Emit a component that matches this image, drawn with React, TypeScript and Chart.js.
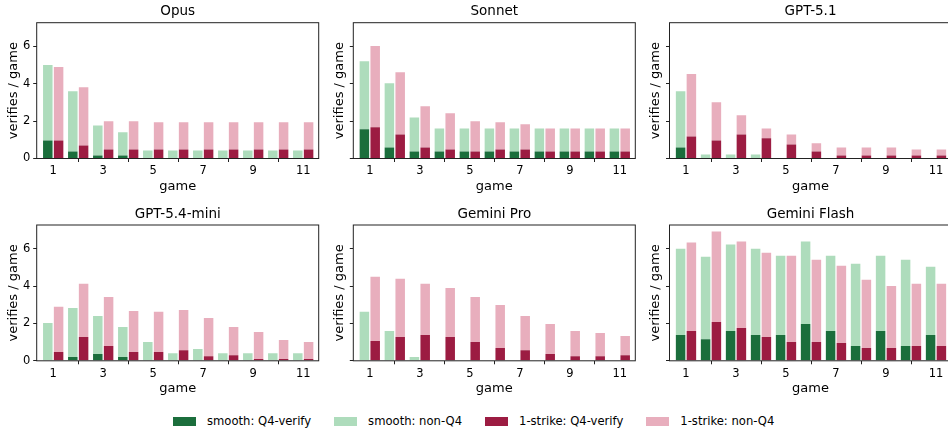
import { useEffect, useRef } from 'react';
import { Chart, registerables } from 'chart.js';

Chart.register(...registerables);

const games = [1, 2, 3, 4, 5, 6, 7, 8, 9, 10, 11];
const xTickValues = [1, 3, 5, 7, 9, 11];
const yTickValues = [0, 2, 4, 6];
const yMax = 7.27;

const seriesLabels = ['smooth: Q4-verify', 'smooth: non-Q4', '1-strike: Q4-verify', '1-strike: non-Q4'];
const seriesColors = ['#1b6e3c', '#aedcbc', '#9c1c42', '#e8aebd'];

// Opus
const opusSmoothQ4 = [0.97, 0.38, 0.16, 0.16, 0, 0, 0, 0, 0, 0, 0];
const opusSmoothNon = [4.03, 3.22, 1.61, 1.24, 0.43, 0.43, 0.43, 0.43, 0.43, 0.43, 0.43];
const opusStrikeQ4 = [0.97, 0.7, 0.48, 0.48, 0.48, 0.48, 0.48, 0.48, 0.48, 0.48, 0.48];
const opusStrikeNon = [3.93, 3.12, 1.51, 1.52, 1.46, 1.46, 1.46, 1.46, 1.46, 1.46, 1.46];

// Sonnet
const sonnetSmoothQ4 = [1.56, 0.59, 0.38, 0.38, 0.38, 0.38, 0.38, 0.38, 0.38, 0.38, 0.38];
const sonnetSmoothNon = [3.65, 3.44, 1.82, 1.23, 1.23, 1.23, 1.23, 1.23, 1.23, 1.23, 1.23];
const sonnetStrikeQ4 = [1.67, 1.29, 0.59, 0.48, 0.38, 0.48, 0.48, 0.38, 0.38, 0.38, 0.38];
const sonnetStrikeNon = [4.35, 3.33, 2.21, 1.94, 1.61, 1.46, 1.35, 1.23, 1.23, 1.23, 1.23];

// GPT-5.1
const gpt51SmoothQ4 = [0.59, 0, 0, 0, 0, 0, 0, 0, 0, 0, 0];
const gpt51SmoothNon = [3.01, 0.22, 0.22, 0.22, 0, 0, 0, 0, 0, 0, 0];
const gpt51StrikeQ4 = [1.18, 0.97, 1.29, 1.08, 0.75, 0.38, 0.16, 0.16, 0.16, 0.16, 0.16];
const gpt51StrikeNon = [3.34, 2.04, 1.02, 0.53, 0.54, 0.43, 0.43, 0.43, 0.43, 0.32, 0.32];

// GPT-5.4-mini
const miniSmoothQ4 = [0, 0.2, 0.36, 0.2, 0, 0, 0, 0, 0, 0, 0];
const miniSmoothNon = [2.02, 2.63, 2.04, 1.61, 1.0, 0.41, 0.63, 0.41, 0.41, 0.41, 0.41];
const miniStrikeQ4 = [0.47, 1.27, 0.79, 0.47, 0.47, 0.57, 0.25, 0.3, 0.09, 0.09, 0.09];
const miniStrikeNon = [2.42, 2.85, 2.63, 2.2, 2.15, 2.15, 2.04, 1.51, 1.45, 1.02, 0.91];

// Gemini Pro
const proSmoothQ4 = [0, 0, 0, 0, 0, 0, 0, 0, 0, 0, 0];
const proSmoothNon = [2.62, 1.6, 0.2, 0, 0, 0, 0, 0, 0, 0, 0];
const proStrikeQ4 = [1.06, 1.27, 1.38, 1.27, 1.0, 0.68, 0.57, 0.36, 0.25, 0.25, 0.3];
const proStrikeNon = [3.44, 3.12, 2.74, 2.63, 2.42, 2.31, 1.83, 1.61, 1.35, 1.24, 1.03];

// Gemini Flash
const flashSmoothQ4 = [1.38, 1.16, 1.6, 1.38, 1.38, 1.97, 1.6, 0.79, 1.6, 0.79, 1.38];
const flashSmoothNon = [4.62, 4.41, 4.62, 4.62, 4.25, 4.41, 4.03, 4.41, 4.03, 4.62, 3.66];
const flashStrikeQ4 = [1.6, 2.08, 1.76, 1.27, 1.0, 1.0, 0.95, 0.68, 0.68, 0.79, 0.79];
const flashStrikeNon = [4.73, 4.84, 4.62, 4.52, 4.63, 4.41, 4.14, 3.66, 3.33, 3.33, 3.33];

const panelTitles = ['Opus', 'Sonnet', 'GPT-5.1', 'GPT-5.4-mini', 'Gemini Pro', 'Gemini Flash'];
const panelSeries = [
  [opusSmoothQ4, opusSmoothNon, opusStrikeQ4, opusStrikeNon],
  [sonnetSmoothQ4, sonnetSmoothNon, sonnetStrikeQ4, sonnetStrikeNon],
  [gpt51SmoothQ4, gpt51SmoothNon, gpt51StrikeQ4, gpt51StrikeNon],
  [miniSmoothQ4, miniSmoothNon, miniStrikeQ4, miniStrikeNon],
  [proSmoothQ4, proSmoothNon, proStrikeQ4, proStrikeNon],
  [flashSmoothQ4, flashSmoothNon, flashStrikeQ4, flashStrikeNon],
];
const stackIds = ['smooth', 'smooth', 'strike', 'strike'];

const FONT = '"DejaVu Sans", sans-serif';
const AXES_W = 282;
const AXES_H = 135.8;
const colCanvasLeft = [0, 326, 642];
const colAxisWidth = [36.7, 27.3, 27.5];
const colCanvasW = [321, 312, 312];
const rowCanvasTop = [0, 200];
const rowPadTop = [22.7, 25];
const rowCanvasH = [200, 202];

const boxAndTitle = {
  id: 'boxAndTitle',
  afterDraw(chart: any, _args: any, opts: any) {
    const { ctx, chartArea } = chart;
    ctx.save();
    ctx.strokeStyle = '#222';
    ctx.lineWidth = 1;
    ctx.strokeRect(chartArea.left, chartArea.top, chartArea.right - chartArea.left, chartArea.bottom - chartArea.top);
    ctx.font = `13.5px ${FONT}`;
    ctx.fillStyle = '#000';
    ctx.textAlign = 'center';
    ctx.textBaseline = 'alphabetic';
    ctx.fillText(opts.text, (chartArea.left + chartArea.right) / 2, chartArea.top - 7.5);
    ctx.restore();
  },
};

function Panel({ index }: { index: number }) {
  const ref = useRef<HTMLCanvasElement | null>(null);
  const col = index % 3;
  const row = Math.floor(index / 3);
  useEffect(() => {
    if (!ref.current) return;
    const yW = colAxisWidth[col];
    const cw = colCanvasW[col];
    const ch = rowCanvasH[row];
    const padTop = rowPadTop[row];
    const xH = ch - padTop - AXES_H;
    const series = panelSeries[index];
    const chart = new Chart(ref.current, {
      type: 'bar',
      data: {
        datasets: series.map((arr, si) => ({
          label: seriesLabels[si],
          data: games.map((g, i) => ({ x: g, y: arr[i] })),
          backgroundColor: seriesColors[si],
          borderWidth: 0,
          stack: stackIds[si],
          categoryPercentage: 0.864,
          barPercentage: 0.88,
        })),
      },
      options: {
        responsive: false,
        animation: false,
        devicePixelRatio: window.devicePixelRatio || 1,
        layout: { padding: { top: padTop, left: 0, right: cw - yW - AXES_W, bottom: 0 } },
        plugins: {
          legend: { display: false },
          tooltip: { enabled: false },
          boxAndTitle: { text: panelTitles[index] },
        } as any,
        scales: {
          x: {
            type: 'linear',
            min: 0.34,
            max: 11.62,
            offset: false,
            afterBuildTicks: (axis: any) => {
              axis.ticks = xTickValues.map((v) => ({ value: v }));
            },
            afterFit: (s: any) => {
              s.height = xH;
            },
            ticks: {
              font: { family: FONT, size: 11.5 },
              color: '#000',
              padding: 2.5,
              maxRotation: 0,
              autoSkip: false,
              callback: (v: any) => String(v),
            },
            grid: { drawOnChartArea: false, drawTicks: true, tickLength: 3.5, color: '#222' },
            border: { display: false },
            title: {
              display: true,
              text: 'game',
              color: '#000',
              font: { family: FONT, size: 13 },
              padding: { top: 0, bottom: 5.5 },
            },
          },
          y: {
            stacked: true,
            min: 0,
            max: yMax,
            afterBuildTicks: (axis: any) => {
              axis.ticks = yTickValues.map((v) => ({ value: v }));
            },
            afterFit: (s: any) => {
              s.width = yW;
            },
            ticks: {
              font: { family: FONT, size: 11.5 },
              color: '#000',
              padding: 3,
              callback: (v: any) => (col === 0 ? String(v) : ''),
            },
            grid: { drawOnChartArea: false, drawTicks: true, tickLength: 3.5, color: '#222' },
            border: { display: false },
            title: {
              display: true,
              text: 'verifies / game',
              color: '#000',
              font: { family: FONT, size: 13 },
              padding: { top: 6, bottom: 0 },
            },
          },
        },
      } as any,
      plugins: [boxAndTitle],
    });
    return () => chart.destroy();
  }, [index, col, row]);
  return (
    <canvas
      ref={ref}
      width={colCanvasW[col]}
      height={rowCanvasH[row]}
      style={{
        position: 'absolute',
        left: colCanvasLeft[col],
        top: rowCanvasTop[row],
        width: colCanvasW[col],
        height: rowCanvasH[row],
      }}
    />
  );
}

export default function App() {
  return (
    <div
      style={{
        position: 'absolute',
        left: 0,
        top: 0,
        width: 948,
        height: 431,
        overflow: 'hidden',
        background: '#fff',
        fontFamily: FONT,
      }}
    >
      {panelTitles.map((_, i) => (
        <Panel key={i} index={i} />
      ))}
      <div
        style={{
          position: 'absolute',
          left: 173,
          top: 413,
          height: 16,
          display: 'flex',
          alignItems: 'center',
          whiteSpace: 'nowrap',
        }}
      >
        {seriesLabels.map((lab, i) => (
          <div key={lab} style={{ display: 'flex', alignItems: 'center', marginRight: i < 3 ? 23 : 0 }}>
            <span
              style={{
                display: 'inline-block',
                width: 23,
                height: 9,
                background: seriesColors[i],
                marginRight: 11,
              }}
            />
            <span style={{ fontSize: 11.6, color: '#000' }}>{lab}</span>
          </div>
        ))}
      </div>
    </div>
  );
}
